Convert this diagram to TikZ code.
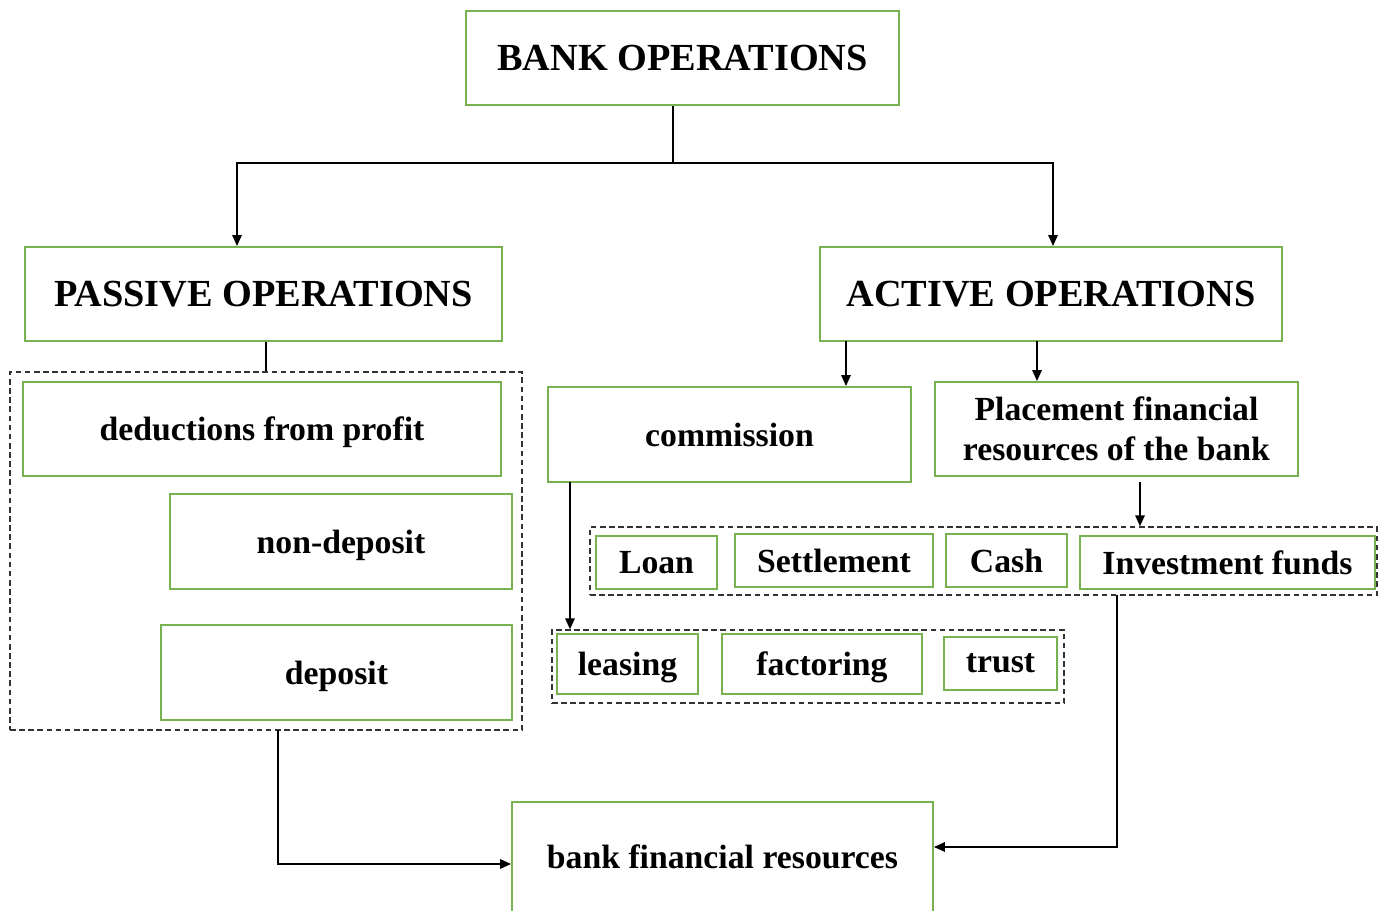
\documentclass[tikz,border=0pt]{standalone}
\usepackage{fontspec}
\setmainfont{Liberation Serif}
\usetikzlibrary{arrows.meta}
\definecolor{boxgreen}{RGB}{120,178,80}

\begin{document}
\begin{tikzpicture}[x=0.02cm, y=-0.02cm, >={Triangle[length=0.22cm, width=0.19cm]},
  box/.style={draw=boxgreen, line width=1.1pt, fill=white, inner sep=0pt, align=center,
    text depth=0pt, font=\bfseries\fontsize{19.2}{22.8}\selectfont},
  headbox/.style={box, font=\bfseries\fontsize{21.8}{26}\selectfont},
  group/.style={draw=black!80, dashed, dash pattern=on 3.2pt off 2pt, line width=0.8pt, inner sep=0pt},
  arr/.style={->, line width=0.85pt},
  link/.style={line width=0.85pt}]

\useasboundingbox (0,0) rectangle (1384,911);

% Headings
\node[headbox, minimum width=8.66cm, minimum height=1.88cm] (bank) at (682.5,58) {BANK OPERATIONS};
\node[headbox, minimum width=9.54cm, minimum height=1.88cm] (passive) at (263.5,294) {PASSIVE OPERATIONS};
\node[headbox, minimum width=9.24cm, minimum height=1.88cm] (active) at (1051,294) {ACTIVE OPERATIONS};

% Passive side
\node[group, minimum width=10.24cm, minimum height=7.16cm] (passgroup) at (266,551) {};
\node[box, minimum width=9.56cm, minimum height=1.88cm] (deduct) at (262,429) {deductions from profit};
\node[box, minimum width=6.84cm, minimum height=1.9cm] (nondep) at (341,541.5) {non-deposit};
\node[box, minimum width=7.02cm, minimum height=1.9cm] (deposit) at (336.5,672.5) {deposit};

% Active side
\node[box, minimum width=7.26cm, minimum height=1.9cm] (commission) at (729.5,434.5) {commission};
\node[box, minimum width=7.26cm, minimum height=1.88cm] (placement) at (1116.5,429) {Placement financial\\resources of the bank};

\node[group, minimum width=15.74cm, minimum height=1.36cm] (actgroup) at (983.5,561) {};
\node[box, minimum width=2.42cm, minimum height=1.06cm] (loan) at (656.5,562.5) {Loan};
\node[box, minimum width=3.96cm, minimum height=1.06cm] (settle) at (834,560.5) {Settlement};
\node[box, minimum width=2.42cm, minimum height=1.06cm] (cash) at (1006.5,560.5) {Cash};
\node[box, minimum width=5.9cm, minimum height=1.06cm] (invest) at (1227.5,562.5) {Investment funds};

\node[group, minimum width=10.24cm, minimum height=1.46cm] (comgroup) at (808,666.5) {};
\node[box, minimum width=2.82cm, minimum height=1.2cm] (leasing) at (627.5,664) {leasing};
\node[box, minimum width=4.0cm, minimum height=1.2cm] (factoring) at (822,664) {factoring};
\node[box, minimum width=2.26cm, minimum height=1.06cm] (trust) at (1000.5,663.5) {trust};

% Result
\node[box, minimum width=8.42cm, minimum height=2.2cm] (bankres) at (722.5,857) {bank financial resources};

% Connector bends
\coordinate (split) at (673,163);
\coordinate (pin) at (237,163);
\coordinate (ain) at (1053,163);
\coordinate (acom) at (846,341);
\coordinate (aplc) at (1037,341);
\coordinate (pdown) at (1140,482);
\coordinate (cdown) at (570,482);
\coordinate (ddown) at (278,730);
\coordinate (idown) at (1117,595);

% Connectors
\draw[link] (split |- bank.south) -- (split);
\draw[arr] (split) -- (pin) -- (pin |- passive.north);
\draw[arr] (split) -- (ain) -- (ain |- active.north);
\draw[link] (passgroup.north |- passive.south) -- (passgroup.north);
\draw[arr] (acom) -- (acom |- commission.north);
\draw[arr] (aplc) -- (aplc |- placement.north);
\draw[arr] (pdown) -- (pdown |- actgroup.north);
\draw[arr] (cdown) -- (cdown |- comgroup.north);
\draw[arr] (ddown) |- ([yshift=-0.14cm]bankres.west);
\draw[arr] (idown) |- ([yshift=0.2cm]bankres.east);

\end{tikzpicture}
\end{document}
